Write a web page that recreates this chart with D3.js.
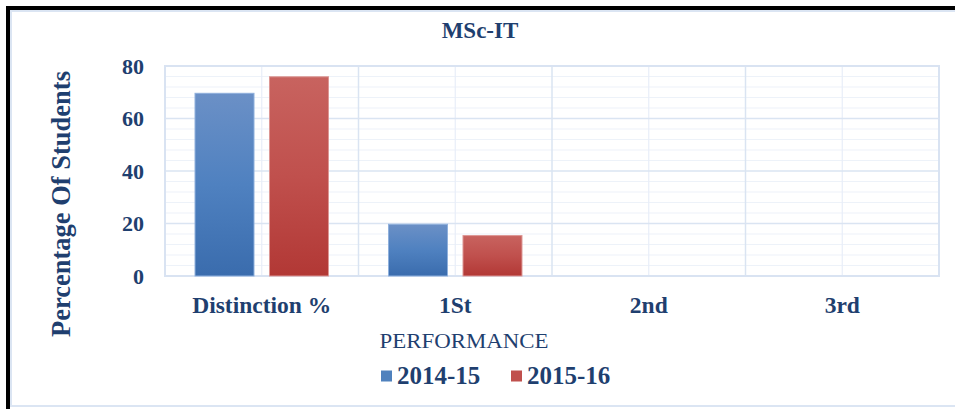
<!DOCTYPE html>
<html>
<head>
<meta charset="utf-8">
<script src="https://cdn.jsdelivr.net/npm/d3@7"></script>
<style>
html,body{margin:0;padding:0;background:#fff;}
svg{display:block;}
</style>
</head>
<body>
<svg id="chart" width="955" height="409"></svg>
<script>
const title = "MSc-IT";
const categories = ["Distinction %", "1St", "2nd", "3rd"];
const seriesNames = ["2014-15", "2015-16"];
const values2014 = [69.6, 19.7, 0, 0];
const values2015 = [75.9, 15.4, 0, 0];
const yTicks = [0, 20, 40, 60, 80];
const xTitle = "PERFORMANCE";
const yTitle = "Percentage Of Students";

const svg = d3.select("#chart");
const W = 955, H = 409;
const plot = {l: 165, r: 939, t: 66, b: 276};
const textColor = "#1f3f6f";
const serif = "'Liberation Serif','Times New Roman',serif";

// frame
svg.append("rect").attr("x", 11).attr("y", 11).attr("width", W).attr("height", 395)
  .attr("fill", "#fff").attr("stroke", "#dbe5f3").attr("stroke-width", 2);
svg.append("rect").attr("x", 6).attr("y", 6).attr("width", W).attr("height", 4).attr("fill", "#000");
svg.append("rect").attr("x", 6).attr("y", 6).attr("width", 4).attr("height", H).attr("fill", "#000");

const x0 = d3.scaleBand().domain(categories).range([plot.l, plot.r]).paddingInner(0).paddingOuter(0);
const x1 = d3.scaleBand().domain(seriesNames).range([0, x0.bandwidth()]).paddingInner(0.208).paddingOuter(0.403);
const y = d3.scaleLinear().domain([0, 80]).range([plot.b, plot.t]);

const defs = svg.append("defs");
const grads = [
  {id: "gBlue", c: ["#6b90c6", "#4f81c0", "#3a6cad"]},
  {id: "gRed", c: ["#c8635f", "#c0504d", "#b23835"]}
];
grads.forEach(g => {
  const lg = defs.append("linearGradient").attr("id", g.id).attr("x1", 0).attr("y1", 0).attr("x2", 0).attr("y2", 1);
  lg.append("stop").attr("offset", "0%").attr("stop-color", g.c[0]);
  lg.append("stop").attr("offset", "50%").attr("stop-color", g.c[1]);
  lg.append("stop").attr("offset", "100%").attr("stop-color", g.c[2]);
});

// minor horizontal grid
const gGrid = svg.append("g");
gGrid.selectAll("line.minor").data(d3.range(0, 81, 4).filter(v => v % 20 !== 0))
  .join("line").attr("x1", plot.l).attr("x2", plot.r)
  .attr("y1", d => y(d)).attr("y2", d => y(d))
  .attr("stroke", "#edf2f9").attr("stroke-width", 1.2);
// vertical minor (category centers)
gGrid.selectAll("line.vmin").data(categories).join("line")
  .attr("x1", d => x0(d) + x0.bandwidth() / 2).attr("x2", d => x0(d) + x0.bandwidth() / 2)
  .attr("y1", plot.t).attr("y2", plot.b)
  .attr("stroke", "#e8eef8").attr("stroke-width", 1.2);
// major horizontal
gGrid.selectAll("line.major").data(yTicks).join("line")
  .attr("x1", plot.l).attr("x2", plot.r)
  .attr("y1", d => y(d)).attr("y2", d => y(d))
  .attr("stroke", "#dae4f2").attr("stroke-width", 1.5);
// vertical major (category boundaries)
gGrid.selectAll("line.vmaj").data(categories.slice(1)).join("line")
  .attr("x1", d => x0(d)).attr("x2", d => x0(d))
  .attr("y1", plot.t).attr("y2", plot.b)
  .attr("stroke", "#dae4f2").attr("stroke-width", 1.5);
svg.append("rect").attr("x", plot.l).attr("y", plot.t)
  .attr("width", plot.r - plot.l).attr("height", plot.b - plot.t)
  .attr("fill", "none").attr("stroke", "#d9e3f2").attr("stroke-width", 2);

// bars
const series = [
  {name: seriesNames[0], values: values2014, fill: "url(#gBlue)", stroke: "#8fb0dc", sw: "#4f81bd"},
  {name: seriesNames[1], values: values2015, fill: "url(#gRed)", stroke: "#dc9794", sw: "#c0504d"}
];
series.forEach(s => {
  svg.append("g").selectAll("rect").data(categories.map((c, i) => ({c, v: s.values[i]})).filter(d => d.v > 0))
    .join("rect")
    .attr("x", d => x0(d.c) + x1(s.name))
    .attr("y", d => y(d.v))
    .attr("width", x1.bandwidth())
    .attr("height", d => y(0) - y(d.v))
    .attr("fill", s.fill)
    .attr("stroke", s.stroke).attr("stroke-width", 1);
});

// y axis labels
const yAxis = d3.axisLeft(y).tickValues(yTicks).tickSize(0).tickPadding(0);
const gy = svg.append("g").attr("transform", `translate(144,0)`).call(yAxis);
gy.select(".domain").remove();
gy.selectAll("text").attr("font-family", serif).attr("font-weight", "bold")
  .attr("font-size", "22px").attr("fill", textColor).attr("dy", "0.34em");

// x axis labels
const xAxis = d3.axisBottom(x0).tickSize(0).tickPadding(0);
const gx = svg.append("g").attr("transform", `translate(0,313)`).call(xAxis);
gx.select(".domain").remove();
gx.selectAll("text").attr("font-family", serif).attr("font-weight", "bold")
  .attr("font-size", "23.5px").attr("fill", textColor).attr("dy", 0);

// title
svg.append("text").attr("x", 480).attr("y", 38).attr("text-anchor", "middle")
  .attr("font-family", serif).attr("font-weight", "bold").attr("font-size", "23px")
  .attr("fill", textColor).text(title);

// axis titles
svg.append("text").attr("x", 464).attr("y", 348).attr("text-anchor", "middle")
  .attr("font-family", serif).attr("font-size", "22px").attr("fill", textColor)
  .attr("textLength", 169).attr("lengthAdjust", "spacingAndGlyphs").text(xTitle);

svg.append("text").attr("transform", "translate(70,204) rotate(-90)").attr("text-anchor", "middle")
  .attr("font-family", serif).attr("font-weight", "bold").attr("font-size", "26.5px")
  .attr("fill", textColor).text(yTitle);

// legend
const legX = [381, 511];
series.forEach((s, i) => {
  svg.append("rect").attr("x", legX[i]).attr("y", 370.5).attr("width", 11).attr("height", 11)
    .attr("fill", s.sw);
  svg.append("text").attr("x", legX[i] + 16).attr("y", 383.5)
    .attr("font-family", serif).attr("font-weight", "bold").attr("font-size", "25px")
    .attr("fill", textColor).text(s.name);
});
</script>
</body>
</html>
